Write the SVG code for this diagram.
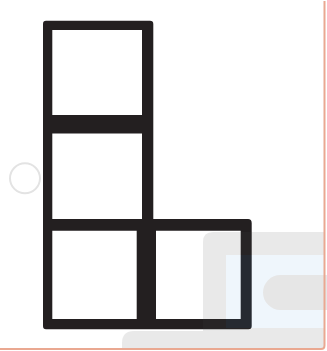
<svg xmlns="http://www.w3.org/2000/svg" width="327" height="351" viewBox="0 0 327 351">
  <style>
    .ink { fill: #231f20; fill-rule: evenodd; }
    .wm-grey { fill: #4c4c4c; fill-opacity: 0.12; fill-rule: evenodd; }
    .wm-blue { fill: #4a96e0; fill-opacity: 0.09; }
    .wm-pill { fill: #e6e6e6; }
    .ring { fill: none; stroke: #e3e3e3; stroke-width: 2; }
    .frame { fill: none; stroke: #eaa891; stroke-width: 2; }
  </style>
  <rect x="0" y="0" width="327" height="351" fill="#ffffff"/>
  <g id="lshape">
    <path class="ink" d="M43,24 Q43,20.7 46,20.7 L150,20.7 Q153.3,20.7 153.3,24 L153.3,219 L248,219 Q251.7,219 251.7,223 L251.7,326 Q251.7,329.3 248.5,329.3 L46,329.3 Q43,329.3 43,326 Z
      M52.3,30 H142 V115 H52.3 Z
      M52.3,133.5 H142 V219 H52.3 Z
      M52.3,230.7 H136.7 V319 H52.3 Z
      M156,230.7 H240.7 V319 H156 Z"/>
  </g>
  <g id="watermark">
    <path class="wm-grey" d="M122,343 Q122,331 134,331 L203,331 L203,242 Q203,232 213,232 L324,232 L324,348 L122,348 Z
      M226,255 L226,328 L324,328 L324,255 Z"/>
    <rect class="wm-blue" x="226" y="255" width="98" height="73"/>
    <rect class="wm-pill" x="263" y="275" width="80" height="35" rx="17.5"/>
  </g>
  <g id="marker-circle">
    <circle class="ring" cx="25" cy="178.3" r="15"/>
  </g>
  <g id="border">
    <path class="frame" d="M324.5,1 V345.5 Q324.5,349 321,349 H0"/>
  </g>
</svg>
